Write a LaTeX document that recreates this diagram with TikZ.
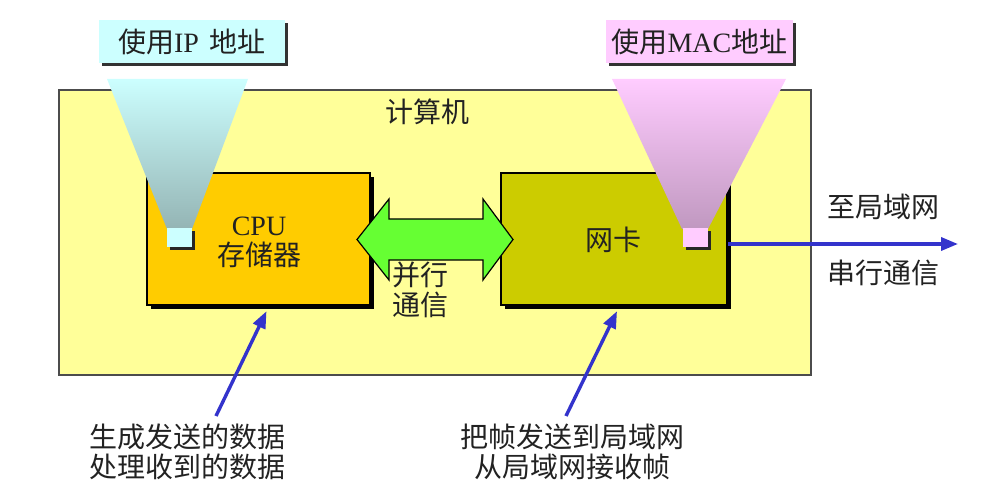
\documentclass[tikz,border=0pt]{standalone}
\usepackage{fontspec}
\setmainfont{Liberation Serif}
\newfontfamily\cjk{Noto Sans CJK SC}
\usetikzlibrary{arrows.meta,shadows,calc}
\definecolor{yelL}{HTML}{FFFF99}
\definecolor{cpuC}{HTML}{FFCC00}
\definecolor{nicC}{HTML}{CCCC00}
\definecolor{greenA}{HTML}{66FF33}
\definecolor{blueA}{HTML}{3333CC}
\definecolor{cyanL}{HTML}{CCFFFF}
\definecolor{cyanD}{HTML}{94B4B4}
\definecolor{pinkL}{HTML}{FFCCFF}
\definecolor{pinkD}{HTML}{C098C0}
\definecolor{txt}{HTML}{222222}
\tikzset{
  txtnode/.style={inner sep=0pt, align=center, text=txt},
  unitbox/.style={draw=black, line width=2.4pt, inner sep=0pt, minimum width=#1, minimum height=132pt,
    drop shadow={shadow xshift=4pt, shadow yshift=-4pt, fill=black, opacity=1}},
  labelbox/.style={inner sep=0pt, minimum height=43pt, text=txt,
    drop shadow={shadow xshift=3pt, shadow yshift=-3pt, fill=black!80, opacity=1}},
  portbox/.style={inner sep=0pt, minimum width=25pt, minimum height=19pt,
    drop shadow={shadow xshift=3pt, shadow yshift=-3pt, fill=black!85, opacity=1}},
  barrow/.style={draw=blueA, line width=3.4pt, -{Triangle[length=17pt,width=13pt]}},
}
\begin{document}
\begin{tikzpicture}[x=1pt,y=-1pt, font=\fontsize{28}{30}\selectfont\cjk]
\useasboundingbox (0,0) rectangle (997,492);
% computer
\node[draw=black!70, line width=1.2pt, fill=yelL, inner sep=0pt, minimum width=752pt, minimum height=285pt] (pc) at (435,232.5) {};
\node[txtnode] (pcl) at (427,112) {计算机};
% units
\node[unitbox=223pt, fill=cpuC] (cpu) at (258.5,239) {};
\node[txtnode] (cput) at (259,242) {{\rmfamily CPU}\\存储器};
\node[unitbox=226pt, fill=nicC] (nic) at (614,239) {};
\node[txtnode] (nict) at (613,240) {网卡};
% parallel arrow
\draw[fill=greenA, line width=1.2pt, line join=miter]
  (357,239.5) -- (389,199) -- (389,219) -- (483,219) -- (483,199) -- (513,239.5)
  -- (483,280) -- (483,260) -- (389,260) -- (389,280) -- cycle;
\node[txtnode] (par) at (420,290) {并行\\通信};
% cones
\shade[top color=cyanL, bottom color=cyanD] (107,79) -- (248,79) -- (192,229) -- (167,229) -- cycle;
\shade[top color=pinkL, bottom color=pinkD] (612,79) -- (786,79) -- (708,229) -- (682,229) -- cycle;
\node[portbox, fill=cyanL] (ipport) at (179.5,237.5) {};
\node[portbox, fill=pinkL] (macport) at (695,237.5) {};
% labels
\node[labelbox, fill=cyanL, minimum width=186pt] (ipl) at (192,41.5) {使用{\rmfamily IP}\, 地址};
\node[labelbox, fill=pinkL, minimum width=187pt] (macl) at (699.5,41.5) {使用{\rmfamily MAC}地址};
% serial link
\coordinate (lan) at (958,244);
\draw[barrow] (nic.east |- lan) -- (lan);
\node[txtnode] (tolan) at (883,207) {至局域网};
\node[txtnode] (ser) at (883,273) {串行通信};
% bottom notes
\node[txtnode] (n1) at (187,452) {生成发送的数据\\处理收到的数据};
\node[txtnode] (n2) at (572,452) {把帧发送到局域网\\从局域网接收帧};
\coordinate (s1) at (216,416);
\coordinate (s2) at (566,416);
\draw[barrow] (s1) -- ([xshift=8pt,yshift=-5pt]cpu.south);
\draw[barrow] (s2) -- ([xshift=3pt,yshift=-5pt]nic.south);
\end{tikzpicture}
\end{document}
